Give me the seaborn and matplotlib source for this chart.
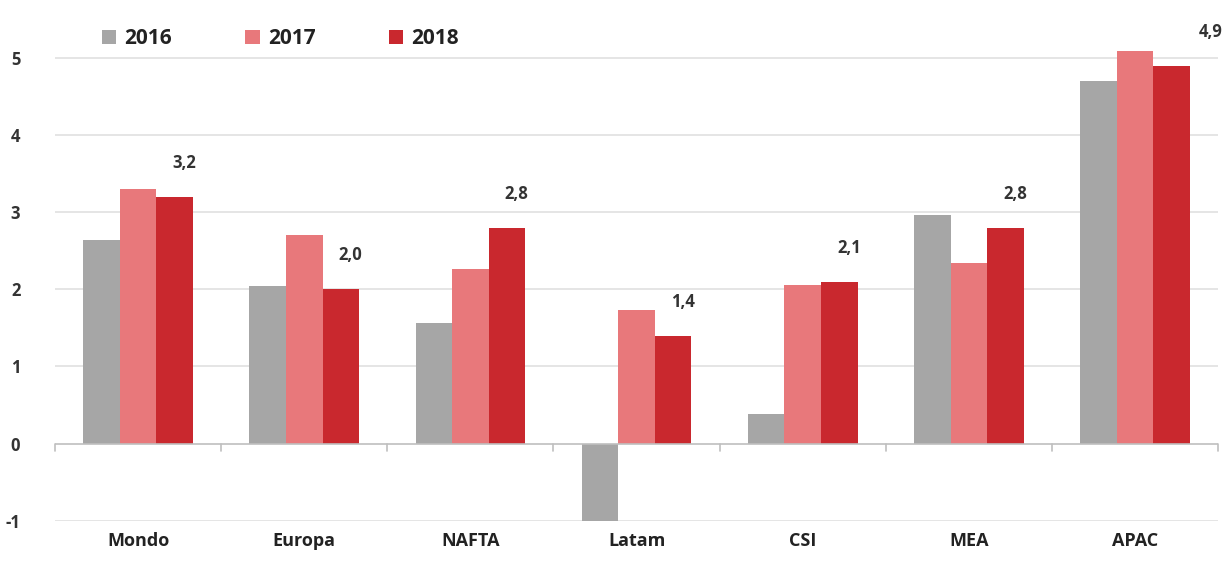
import pandas as pd
import seaborn as sns
import matplotlib.pyplot as plt

# Dati
regioni = ["Mondo", "Europa", "NAFTA", "Latam", "CSI", "MEA", "APAC"]
anni = ["2016", "2017", "2018"]
v2016 = [2.64, 2.04, 1.57, -1.01, 0.38, 2.96, 4.70]
v2017 = [3.30, 2.71, 2.27, 1.73, 2.06, 2.34, 5.09]
v2018 = [3.2, 2.0, 2.8, 1.4, 2.1, 2.8, 4.9]
etichette_2018 = ["3,2", "2,0", "2,8", "1,4", "2,1", "2,8", "4,9"]
colori = ["#a6a6a6", "#e8787b", "#c9282e"]

df = pd.DataFrame({
    "regione": regioni * 3,
    "anno": [a for a in anni for _ in regioni],
    "valore": v2016 + v2017 + v2018,
})

sns.set_style("white")
plt.rcParams["font.family"] = ["Open Sans", "DejaVu Sans"]

fig = plt.figure(figsize=(12.23, 5.71), dpi=100)
ax = fig.add_axes([0.045, 0.088, 0.951, 0.878])

sns.barplot(data=df, x="regione", y="valore", hue="anno", palette=colori,
            width=0.66, saturation=1, linewidth=0, ax=ax, order=regioni, hue_order=anni)

ax.set_ylim(-1, 5.5)
ax.set_xlim(-0.5, 6.5)
ax.set_yticks(range(-1, 6))
ax.set_yticklabels([str(i) for i in range(-1, 6)], fontsize=12, fontweight="bold", color="#333333")
ax.tick_params(axis="y", length=0, pad=25)
ax.set_xticks(range(len(regioni)))
ax.set_xticklabels(regioni, fontsize=13, fontweight="bold", color="#222222")
ax.tick_params(axis="x", length=0, pad=8)
ax.set_xlabel("")
ax.set_ylabel("")
for s in ax.spines.values():
    s.set_visible(False)

# griglia orizzontale
for y in range(-1, 6):
    if y != 0:
        ax.axhline(y, color="#e0e0e0", lw=1.2, zorder=0)
ax.axhline(0, color="#bfbfbf", lw=1.2, zorder=3)
# tacche tra le categorie
for i in range(len(regioni) + 1):
    ax.plot([i - 0.5, i - 0.5], [0, -0.1], color="#bfbfbf", lw=1.2, zorder=3, clip_on=False)

# etichette sulle barre 2018
barre_2018 = ax.containers[2]
for i, (b, t) in enumerate(zip(barre_2018, etichette_2018)):
    dx = 7 if i < 6 else 28
    ax.annotate(t, (b.get_x() + b.get_width() / 2, b.get_height()),
                xytext=(dx, 18), textcoords="offset points", ha="center", va="bottom",
                fontsize=12, fontweight="bold", color="#333333")

leg = ax.legend(loc="upper left", bbox_to_anchor=(0.024, 1.02), ncol=3, frameon=False,
                prop={"size": 15, "weight": "bold"}, handlelength=0.7, handleheight=0.7,
                columnspacing=3.5, handletextpad=0.4)
for t in leg.get_texts():
    t.set_color("#222222")

fig.savefig("out.png", dpi=100)
